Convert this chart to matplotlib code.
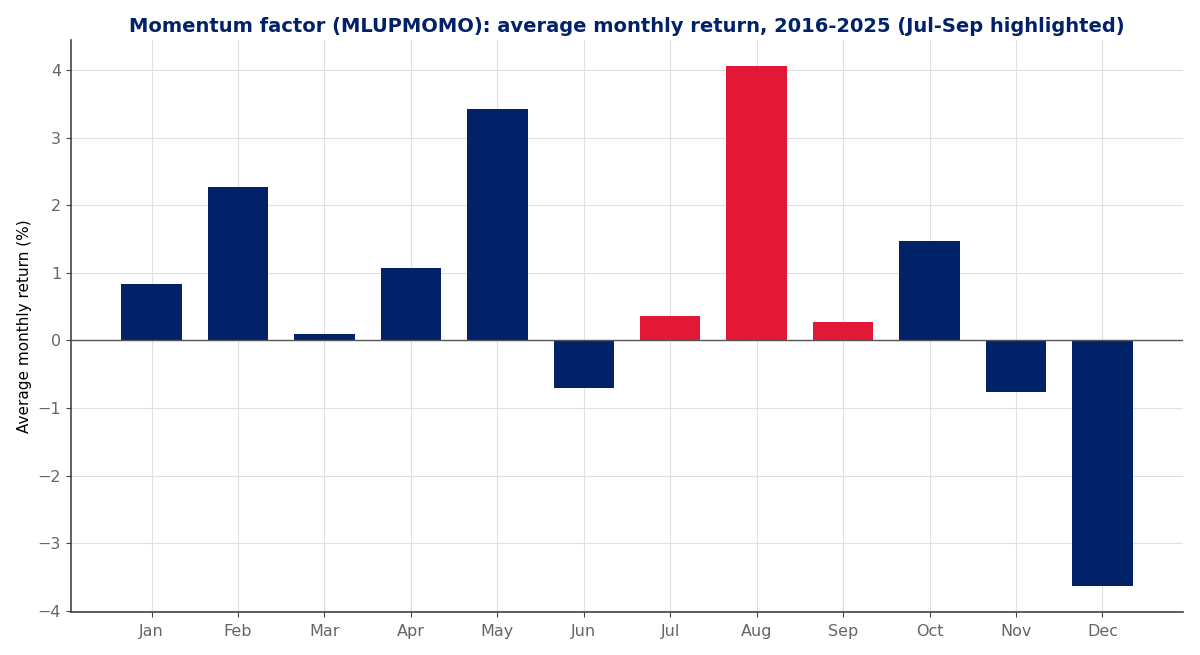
import numpy as np
import matplotlib
matplotlib.use("Agg")
import matplotlib.pyplot as plt

months = ["Jan", "Feb", "Mar", "Apr", "May", "Jun",
          "Jul", "Aug", "Sep", "Oct", "Nov", "Dec"]
avg_return = [0.84, 2.27, 0.09, 1.07, 3.42, -0.70,
              0.36, 4.06, 0.27, 1.47, -0.76, -3.63]
highlight = ["Jul", "Aug", "Sep"]

navy = "#012169"
red = "#E31837"
colors = [red if m in highlight else navy for m in months]

fig, ax = plt.subplots(figsize=(12, 6.55), dpi=100)
x = np.arange(len(months))
ax.bar(x, avg_return, width=0.7, color=colors, zorder=3)
ax.axhline(0, color="#555555", linewidth=1, zorder=4)

ax.set_xticks(x)
ax.set_xticklabels(months)
ax.set_ylabel("Average monthly return (%)", fontsize=11, color="black")
ax.set_title("Momentum factor (MLUPMOMO): average monthly return, 2016-2025 (Jul-Sep highlighted)",
             fontsize=14, fontweight="bold", color=navy, pad=6)

ax.grid(True, color="#e0e0e0", linewidth=0.8, zorder=0)
ax.set_axisbelow(True)
for s in ["top", "right"]:
    ax.spines[s].set_visible(False)
for s in ["left", "bottom"]:
    ax.spines[s].set_color("#444444")
    ax.spines[s].set_linewidth(1.2)
ax.tick_params(colors="#444444", labelcolor="#666666", labelsize=11.5)
ax.tick_params(axis="x", pad=5.5)

fig.subplots_adjust(left=0.059, right=0.986, top=0.939, bottom=0.066)
plt.savefig("out.png")
